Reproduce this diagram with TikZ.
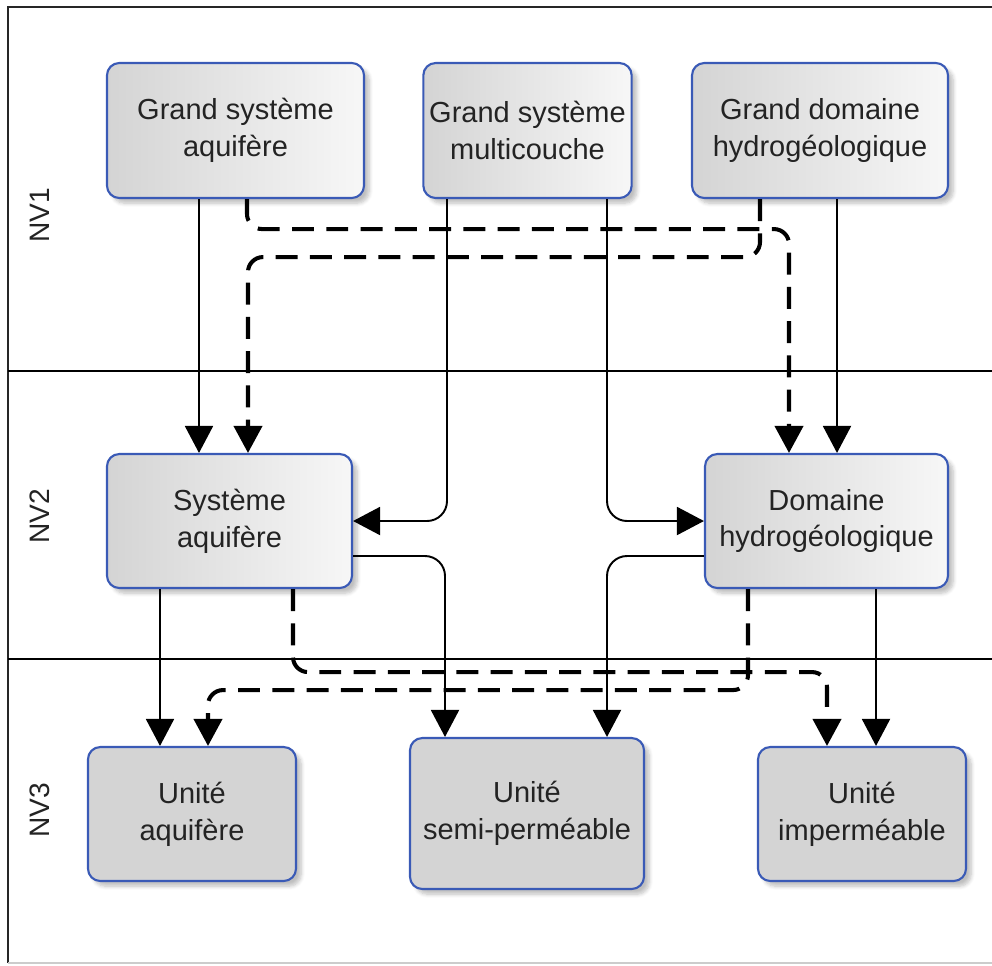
\documentclass[tikz,border=0pt]{standalone}
\usepackage{fontspec}
\setmainfont{Liberation Sans}
\usepackage{xcolor}
\usepackage{tikz}
\usetikzlibrary{arrows.meta, positioning, shadows.blur}
\definecolor{myblue}{RGB}{58,90,182}
\definecolor{mytext}{RGB}{35,35,35}
\definecolor{boxdark}{RGB}{212,212,212}
\definecolor{boxlight}{RGB}{247,247,247}
\definecolor{unitgray}{RGB}{212,212,212}
\tikzset{
  box/.style={rectangle, draw=myblue, left color=boxdark, right color=boxlight,
    align=center, rounded corners=7pt, line width=1.2pt, text=mytext,
    font=\fontsize{16.5}{21}\selectfont,
    execute at begin node={\rule{0pt}{0.64cm}},
    blur shadow={shadow xshift=3pt, shadow yshift=-3pt, shadow opacity=25, shadow blur steps=6}},
  unitbox/.style={box, fill=unitgray, left color=unitgray, right color=unitgray},
  level/.style={rotate=90, font=\fontsize{16}{19}\selectfont, text=mytext},
  arrow/.style={-{Triangle[width=0.56cm,length=0.54cm]}, line width=1.1pt, color=black,
    rounded corners=0.4cm},
  dasharrow/.style={-{Triangle[width=0.56cm,length=0.54cm]}, line width=2.3pt, color=black,
    dash pattern=on 12.5pt off 7pt, rounded corners=0.3cm},
  frame/.style={line width=1.1pt, color=black!85},
  sep/.style={line width=0.8pt, color=black}
}
\begin{document}
\begin{tikzpicture}
  \useasboundingbox (0,0) rectangle (19.84,-19.30);

  % Frame and level separators
  \draw[frame] (19.9,-0.14) -- (0.16,-0.14) -- (0.16,-19.26);
  \draw[black!20, line width=0.8pt] (0.16,-19.26) -- (19.9,-19.26);
  \draw[sep] (0.16,-7.42) -- (19.9,-7.42);
  \draw[sep] (0.16,-13.18) -- (19.9,-13.18);

  % Level labels
  \node[level] (nv1) at (0.8,-4.3) {NV1};
  \node[level] (nv2) at (0.8,-10.32) {NV2};
  \node[level] (nv3) at (0.8,-16.2) {NV3};

  % Level 1
  \node[box, minimum width=5.14cm, minimum height=2.7cm] (gsa) at (4.71,-2.61) {Grand système\\aquifère};
  \node[box, minimum width=4.14cm, minimum height=2.7cm] (gsm) at (10.55,-2.61) {Grand système\\multicouche};
  \node[box, minimum width=5.12cm, minimum height=2.7cm] (gdh) at (16.4,-2.61) {Grand domaine\\hydrogéologique};

  % Level 2
  \node[box, minimum width=4.9cm, minimum height=2.68cm] (sa) at (4.59,-10.42) {Système\\aquifère};
  \node[box, minimum width=4.86cm, minimum height=2.68cm] (dh) at (16.53,-10.42) {Domaine\\hydrogéologique};

  % Level 3
  \node[unitbox, minimum width=4.16cm, minimum height=2.68cm] (ua) at (3.84,-16.28) {Unité\\aquifère};
  \node[unitbox, minimum width=4.68cm, minimum height=3.02cm] (us) at (10.54,-16.27) {Unité\\semi-perméable};
  \node[unitbox, minimum width=4.16cm, minimum height=2.68cm] (ui) at (17.24,-16.28) {Unité\\imperméable};

  % Level 1 -> level 2
  \draw[arrow] ([xshift=-0.73cm]gsa.south) -- ([xshift=-0.61cm]sa.north);
  \draw[arrow] ([xshift=-1.61cm]gsm.south) |- (sa.east);
  \draw[arrow] ([xshift=1.59cm]gsm.south) |- (dh.west);
  \draw[arrow] ([xshift=0.34cm]gdh.south) -- ([xshift=0.21cm]dh.north);
  \draw[dasharrow] ([xshift=0.23cm]gsa.south) -- ++(0,-0.6) -| ([xshift=-0.75cm]dh.north);
  \draw[dasharrow] ([xshift=-1.2cm]gdh.south) -- ++(0,-1.16) -| ([xshift=0.37cm]sa.north);

  % Level 2 -> level 3
  \draw[arrow] ([xshift=-1.39cm]sa.south) -- ([xshift=-0.64cm]ua.north);
  \draw[arrow] ([yshift=-0.7cm]sa.east) -| ([xshift=-1.64cm]us.north);
  \draw[arrow] ([yshift=-0.7cm]dh.west) -| ([xshift=1.6cm]us.north);
  \draw[arrow] ([xshift=0.99cm]dh.south) -- ([xshift=0.28cm]ui.north);
  \draw[dasharrow] ([xshift=1.27cm]sa.south) -- ++(0,-1.66) -| ([xshift=-0.7cm]ui.north);
  \draw[dasharrow] ([xshift=-1.57cm]dh.south) -- ++(0,-2.02) -| ([xshift=0.32cm]ua.north);
\end{tikzpicture}
\end{document}
